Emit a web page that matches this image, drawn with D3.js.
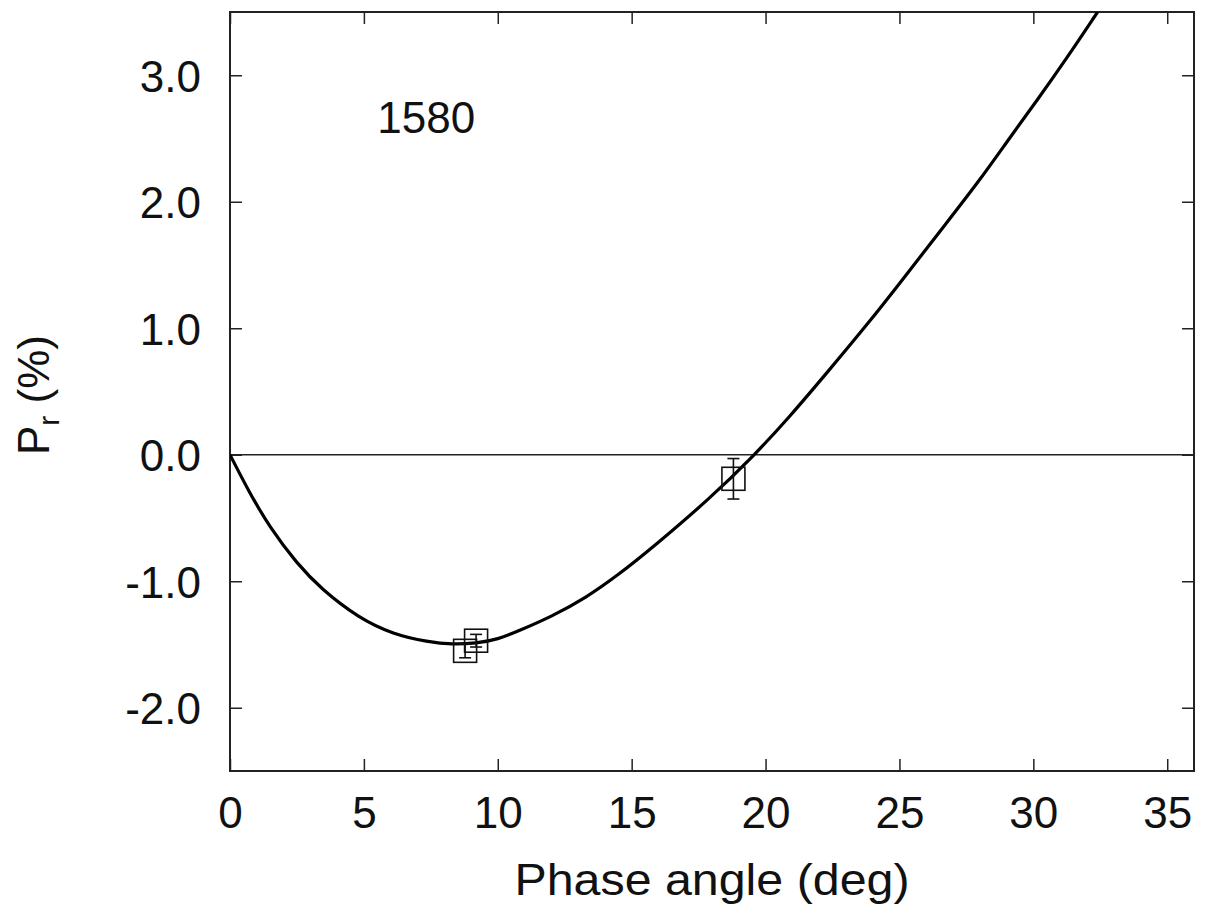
<!DOCTYPE html>
<html>
<head>
<meta charset="utf-8">
<script src="https://cdn.jsdelivr.net/npm/d3@7"></script>
<style>
  body { margin: 0; background: #fff; }
  svg text { font-family: "Liberation Sans", Arial, sans-serif; fill: #111; }
</style>
</head>
<body>
<div id="chart"></div>
<script>
// fitted phase curve
const curveX = [0, 0.7, 1.5, 2.5, 3.4, 4.8, 6.1, 7.4, 8.3, 9.2, 10, 10.8, 12, 13.3, 14.5, 15.8, 17.9, 19.6, 20.9, 22.3, 23.8, 25.1, 26.6, 28, 29.1, 30.2, 31.2, 32.4];
const curveY = [0, -0.29, -0.58, -0.86, -1.06, -1.29, -1.42, -1.48, -1.50, -1.49, -1.46, -1.39, -1.28, -1.13, -0.95, -0.73, -0.35, 0.0, 0.30, 0.65, 1.03, 1.38, 1.79, 2.17, 2.50, 2.82, 3.12, 3.50];

// observations
const obsX = [8.78, 9.19, 18.8];
const obsY = [-1.55, -1.47, -0.19];
const obsErr = [0.055, 0.05, 0.16];

const xTicks = [0, 5, 10, 15, 20, 25, 30, 35];
const yTicks = [-2, -1, 0, 1, 2, 3];
const objectName = "1580";

const W = 1206, H = 911;
const margin = { top: 12, right: 12, bottom: 140, left: 230 };
const w = W - margin.left - margin.right;
const h = H - margin.top - margin.bottom;

const svg = d3.select("#chart").append("svg")
  .attr("width", W)
  .attr("height", H);

const plot = svg.append("g")
  .attr("transform", `translate(${margin.left},${margin.top})`);

const x = d3.scaleLinear().domain([0, 36]).range([0, w]);
const y = d3.scaleLinear().domain([-2.5, 3.5]).range([h, 0]);

svg.append("defs").append("clipPath").attr("id", "clip")
  .append("rect").attr("width", w).attr("height", h);

// zero line
plot.append("line")
  .attr("x1", 0).attr("x2", w)
  .attr("y1", y(0)).attr("y2", y(0))
  .attr("stroke", "#222").attr("stroke-width", 1.5);

// axes, inward ticks on all four sides
const tickLen = 12;
const styleAxis = g => {
  g.select(".domain").remove();
  g.selectAll(".tick line").attr("stroke", "#222").attr("stroke-width", 1.5);
  g.selectAll("text").style("font-size", "44px");
};
// plain hyphen for negatives, like the original
const fmtY = d => d.toFixed(1);

plot.append("g")
  .attr("transform", `translate(0,${h})`)
  .call(d3.axisBottom(x).tickValues(xTicks).tickSizeInner(-tickLen).tickSizeOuter(0).tickPadding(26).tickFormat(d3.format("d")))
  .call(styleAxis);

plot.append("g")
  .call(d3.axisTop(x).tickValues(xTicks).tickSizeInner(-tickLen).tickSizeOuter(0).tickFormat(""))
  .call(styleAxis);

plot.append("g")
  .call(d3.axisLeft(y).tickValues(yTicks).tickSizeInner(-tickLen).tickSizeOuter(0).tickPadding(29).tickFormat(fmtY))
  .call(styleAxis)
  .call(g => g.selectAll("text").attr("dy", "0.36em"));

plot.append("g")
  .attr("transform", `translate(${w},0)`)
  .call(d3.axisRight(y).tickValues(yTicks).tickSizeInner(-tickLen).tickSizeOuter(0).tickFormat(""))
  .call(styleAxis);

// frame
plot.append("rect")
  .attr("width", w).attr("height", h)
  .attr("fill", "none")
  .attr("stroke", "#222").attr("stroke-width", 2);

// curve
const pts = curveX.map((d, i) => [d, curveY[i]]);
plot.append("path")
  .datum(pts)
  .attr("clip-path", "url(#clip)")
  .attr("fill", "none")
  .attr("stroke", "#000")
  .attr("stroke-width", 3.2)
  .attr("d", d3.line().x(d => x(d[0])).y(d => y(d[1])).curve(d3.curveBasis));

// observations: error bars + open squares
const obs = obsX.map((d, i) => ({ x: d, y: obsY[i], e: obsErr[i] }));
const box = 23, cap = 6;
const og = plot.append("g").attr("stroke", "#111").attr("stroke-width", 1.6).attr("fill", "none");
obs.forEach(d => {
  const cx = x(d.x), y1 = y(d.y + d.e), y2 = y(d.y - d.e);
  og.append("line").attr("x1", cx).attr("x2", cx).attr("y1", y1).attr("y2", y2);
  og.append("line").attr("x1", cx - cap).attr("x2", cx + cap).attr("y1", y1).attr("y2", y1);
  og.append("line").attr("x1", cx - cap).attr("x2", cx + cap).attr("y1", y2).attr("y2", y2);
  og.append("rect")
    .attr("x", cx - box / 2).attr("y", y(d.y) - box / 2)
    .attr("width", box).attr("height", box);
});

// object label
plot.append("text")
  .attr("x", x(5.5)).attr("y", 121)
  .style("font-size", "44px")
  .text(objectName);

// axis titles
svg.append("text")
  .attr("x", 712)
  .attr("y", 895)
  .attr("text-anchor", "middle")
  .attr("textLength", 395)
  .attr("lengthAdjust", "spacingAndGlyphs")
  .style("font-size", "45px")
  .text("Phase angle (deg)");

const yt = svg.append("text")
  .attr("transform", `translate(49,${395}) rotate(-90)`)
  .attr("text-anchor", "middle")
  .style("font-size", "44px");
yt.append("tspan").text("P");
yt.append("tspan").attr("dy", 10).style("font-size", "30px").text("r");
yt.append("tspan").attr("dy", -10).text(" (%)");
</script>
</body>
</html>
